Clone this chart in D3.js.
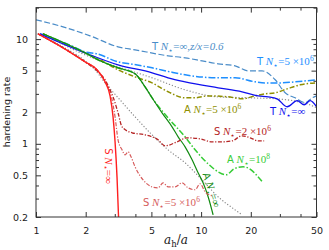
<!DOCTYPE html>
<html><head><meta charset="utf-8">
<script src="https://cdn.jsdelivr.net/npm/d3@7"></script>
<style>html,body{margin:0;padding:0;background:#fff;}svg{display:block;}</style>
</head><body>
<script>
// ---- data (a_h/a , hardening rate) ----
const xTickMajor = [1, 2, 5, 10, 20, 50];
const xTickMinor = [3, 4, 6, 7, 8, 9, 30, 40];
const yTickMajor = [0.2, 0.5, 1, 2, 5, 10];
const yTickMinor = [0.3, 0.4, 0.6, 0.7, 0.8, 0.9, 3, 4, 6, 7, 8, 9, 20];

const T_z06 = [[1,15.3],[1.458,13.1],[2.125,10.75],[3.14,8.44],[3.98,7.9],[6.31,6.93],[8.0,6.63],[10.14,6.2],[12.68,5.81],[16.07,5.56],[19.27,4.98],[23.4,4.98],[28.1,4.09],[32.3,3.07],[37.1,2.75],[42.7,2.47],[47.1,2.75],[50,2.87]];
const T_5e6 = [[1.057,11.24],[1.676,8.5],[1.981,7.56],[2.343,7.24],[3.14,6.07],[3.71,5.81],[5.05,5.32],[6.49,4.87],[8.0,4.56],[12.68,4.27],[16.07,4.27],[21.25,3.91],[24.43,3.82],[30.97,3.82],[37.13,3.91],[50,4.09]];
const T_inf = [[1.057,11.24],[1.981,7.4],[3.14,5.68],[5.05,4.77],[6.31,4.27],[8.0,3.91],[12.68,3.43],[17.72,3.14],[22.16,2.87],[25.47,2.81],[28.88,2.69],[33.2,2.26],[38.18,2.58],[42.1,2.36],[45.77,2.58],[50,2.26]];
const A_5e6 = [[1.103,11.24],[1.981,7.4],[2.443,6.34],[3.14,5.09],[3.98,4.36],[5.05,3.82],[6.31,3.14],[8.0,2.75],[9.2,2.75],[11.03,2.87],[14.58,2.81],[17.72,2.69],[21.25,2.87],[24.43,3.0],[28.09,3.07],[33.2,3.35],[39.81,3.66],[50,3.82]];
const A_inf = [[1.103,11.24],[1.981,7.4],[2.443,6.21],[3.14,5.32],[3.98,4.66],[4.578,3.5],[5.05,2.75],[5.8,1.977],[6.67,1.453],[7.26,1.166],[8.0,0.936],[8.82,0.703],[9.59,0.528],[10.28,0.424],[11.03,0.312],[11.82,0.21]];
const A_1e8 = [[1.103,11.24],[1.981,7.4],[2.443,6.21],[3.14,5.32],[3.98,4.66],[4.578,3.5],[5.05,2.75],[6.31,1.77],[8.0,1.166],[9.2,0.876],[11.03,0.644],[12.68,0.54],[14.17,0.506],[15.85,0.577],[17.97,0.603],[20.09,0.565],[21.85,0.495],[23.76,0.424]];
const S_inf = [[1.028,11.24],[1.458,8.26],[1.981,6.07],[2.343,5.09],[2.62,3.91],[2.809,2.87],[2.929,1.81],[3.012,1.045],[3.097,0.473],[3.162,0.2]];
const S_2e6 = [[1.028,11.24],[1.458,8.26],[1.981,6.07],[2.376,4.87],[2.62,4.085],[2.809,3.28],[2.929,2.81],[3.14,1.977],[3.32,1.453],[3.818,1.274],[4.578,1.219],[5.489,1.092],[6.05,0.957],[7.15,1.045],[8.23,1.141],[9.86,1.116],[11.66,1.045],[13.4,1.045],[15.42,1.068],[17.72,1.192],[19.82,1.141],[22.16,1.068],[24.09,1.068]];
const S_5e6 = [[1.028,11.24],[1.458,8.26],[1.981,6.07],[2.343,5.09],[2.62,3.91],[2.809,3.14],[2.929,2.365],[3.012,1.811],[3.14,1.092],[3.32,0.876],[3.463,0.785],[3.612,0.839],[3.765,0.751],[3.981,0.603],[4.452,0.453],[5.047,0.388],[5.489,0.38],[5.885,0.424],[6.31,0.388],[6.957,0.388],[7.671,0.424],[8.34,0.38],[9.197,0.364],[9.86,0.415],[10.57,0.348],[11.66,0.319]];
const dotA = [[1.028,11.24],[1.458,8.44],[1.981,6.21],[2.279,5.09],[2.62,3.82],[3.229,2.63],[3.981,1.811],[4.909,1.274],[6.31,0.876],[8.0,0.658],[10.14,0.453],[12.68,0.312],[16.07,0.234],[17.72,0.21]];
const dotB = [[1.103,11.24],[1.981,7.08],[3.14,5.44],[5.047,4.27],[8.0,3.28],[12.68,2.81],[19.82,2.75],[28.88,2.69],[36.12,2.58],[43.89,2.41],[50,2.21]];

const W = 329, H = 250;
const svg = d3.select("body").append("svg").attr("width", W).attr("height", H);
const x = d3.scaleLog().domain([1, 50]).range([36, 316.5]);
const y = d3.scaleLog().domain([0.2, 20]).range([217, 7.6]);

const plot = svg.append("g");
plot.append("clipPath").attr("id","clip").append("rect")
  .attr("x", 36).attr("y", 7.6).attr("width", 280.5).attr("height", 209.4);
const lines = plot.append("g").attr("clip-path","url(#clip)");
const lineGen = d3.line().x(d => x(d[0])).y(d => y(d[1])).curve(d3.curveMonotoneX);

const series = [
  {d: dotA, c:"#8c8c8c", w:1.3, dash:"0.1,3", cap:"round"},
  {d: dotB, c:"#8c8c8c", w:1.3, dash:"0.1,3", cap:"round"},
  {d: T_z06, c:"#4a8cc8", w:1.2, dash:"6,2.5"},
  {d: T_5e6, c:"#1e8fff", w:1.5, dash:"7,2,1.5,2"},
  {d: A_5e6, c:"#8f8f00", w:1.5, dash:"5,2,1.5,2"},
  {d: T_inf, c:"#1010ee", w:1.3},
  {d: A_1e8, c:"#36cc36", w:1.5, dash:"6,2,1.5,2"},
  {d: A_inf, c:"#128a12", w:1.2},
  {d: S_5e6, c:"#d65c5c", w:1.2, dash:"4,1.6,1.2,1.6"},
  {d: S_2e6, c:"#b52525", w:1.3, dash:"4,1.6,1.2,1.6"},
  {d: S_inf, c:"#ff1f1f", w:1.4}
];
series.forEach(s => {
  lines.append("path").attr("d", lineGen(s.d)).attr("fill","none")
    .attr("stroke", s.c).attr("stroke-width", s.w)
    .attr("stroke-dasharray", s.dash || null)
    .attr("stroke-linecap", s.cap || "butt");
});

// ---- axes ----
const axCol = "#333";
function styleAxis(g){ g.select(".domain").remove(); g.selectAll("line").attr("stroke", axCol);
  g.selectAll("text").attr("fill","#222").style("font-family","DejaVu Sans").style("font-size","9.5px"); }
const fmt = d => String(d);
svg.append("g").attr("transform","translate(0,217)")
  .call(d3.axisBottom(x).tickValues(xTickMajor).tickSize(-5).tickPadding(10).tickFormat(fmt)).call(styleAxis);
svg.append("g").attr("transform","translate(0,217)")
  .call(d3.axisBottom(x).tickValues(xTickMinor).tickSize(-3).tickFormat("")).call(styleAxis);
svg.append("g").attr("transform","translate(0,7.6)")
  .call(d3.axisTop(x).tickValues(xTickMajor).tickSize(-5).tickFormat("")).call(styleAxis);
svg.append("g").attr("transform","translate(0,7.6)")
  .call(d3.axisTop(x).tickValues(xTickMinor).tickSize(-3).tickFormat("")).call(styleAxis);
svg.append("g").attr("transform","translate(36,0)")
  .call(d3.axisLeft(y).tickValues(yTickMajor).tickSize(-5).tickPadding(8).tickFormat(fmt)).call(styleAxis);
svg.append("g").attr("transform","translate(36,0)")
  .call(d3.axisLeft(y).tickValues(yTickMinor).tickSize(-3).tickFormat("")).call(styleAxis);
svg.append("g").attr("transform","translate(316.5,0)")
  .call(d3.axisRight(y).tickValues(yTickMajor).tickSize(-5).tickFormat("")).call(styleAxis);
svg.append("g").attr("transform","translate(316.5,0)")
  .call(d3.axisRight(y).tickValues(yTickMinor).tickSize(-3).tickFormat("")).call(styleAxis);
svg.append("rect").attr("x",36).attr("y",7.6).attr("width",280.5).attr("height",209.4)
  .attr("fill","none").attr("stroke",axCol).attr("stroke-width",1);

// axis titles
const xl = svg.append("text").attr("x",176).attr("y",244).attr("text-anchor","middle")
  .style("font-family","DejaVu Serif").style("font-size","12px").attr("fill","#222");
xl.append("tspan").text("a").style("font-style","italic");
xl.append("tspan").text("h").attr("dy",3).style("font-size","8.5px");
xl.append("tspan").text("/").attr("dy",-3);
xl.append("tspan").text("a").style("font-style","italic");
svg.append("text").attr("transform","translate(10,112) rotate(-90)").attr("text-anchor","middle")
  .style("font-family","DejaVu Sans").style("font-size","9.5px").attr("fill","#222").text("hardening rate");

// ---- curve labels ----
const SER = "Liberation Serif", SAN = "DejaVu Sans";
function label(px, py, color, parts, rot, anchor){
  const t = svg.append("text").attr("fill", color).style("font-size","11px").style("font-family", SER)
    .attr("text-anchor", anchor || "start");
  if (rot !== undefined) t.attr("transform", `translate(${px},${py}) rotate(${rot})`);
  else t.attr("x", px).attr("y", py);
  let off = 0;
  parts.forEach(p => {
    const s = t.append("tspan").text(p.t);
    let target = p.sub ? 2.5 : p.sup ? -4 : 0;
    if (target !== off) { s.attr("dy", target - off); off = target; }
    if (p.sans) s.style("font-family", SAN).style("font-size","10px");
    if (p.i) s.style("font-style","italic");
    if (p.sub || p.sup) s.style("font-size","7.5px");
  });
}
const Nst = [{t:" "},{t:"N",i:true},{t:"\u22c6",sub:true}];
label(152, 50, "#4a8cc8", [{t:"T",sans:true},...Nst,{t:"=\u221e,"},{t:"z/x",i:true},{t:"=0.6",i:true}]);
label(257, 65, "#1e8fff", [{t:"T",sans:true},...Nst,{t:"=5 \u00d710"},{t:"6",sup:true}]);
label(184, 113, "#8f8f00", [{t:"A",sans:true},...Nst,{t:"=5 \u00d710"},{t:"6",sup:true}]);
label(270, 115, "#1010ee", [{t:"T",sans:true},...Nst,{t:"=\u221e"}]);
label(214, 135, "#b52525", [{t:"S",sans:true},...Nst,{t:"=2 \u00d710"},{t:"6",sup:true}]);
label(227, 163, "#36cc36", [{t:"A",sans:true},...Nst,{t:"=10"},{t:"8",sup:true}]);
label(143, 206, "#d65c5c", [{t:"S",sans:true},...Nst,{t:"=5 \u00d710"},{t:"6",sup:true}]);
label(105, 166, "#ff1f1f", [{t:"S",sans:true},...Nst,{t:"=\u221e"}], 90, "middle");
label(208, 191, "#128a12", [{t:"A",sans:true},...Nst,{t:"=\u221e"}], 72, "middle");
</script>
</body></html>
